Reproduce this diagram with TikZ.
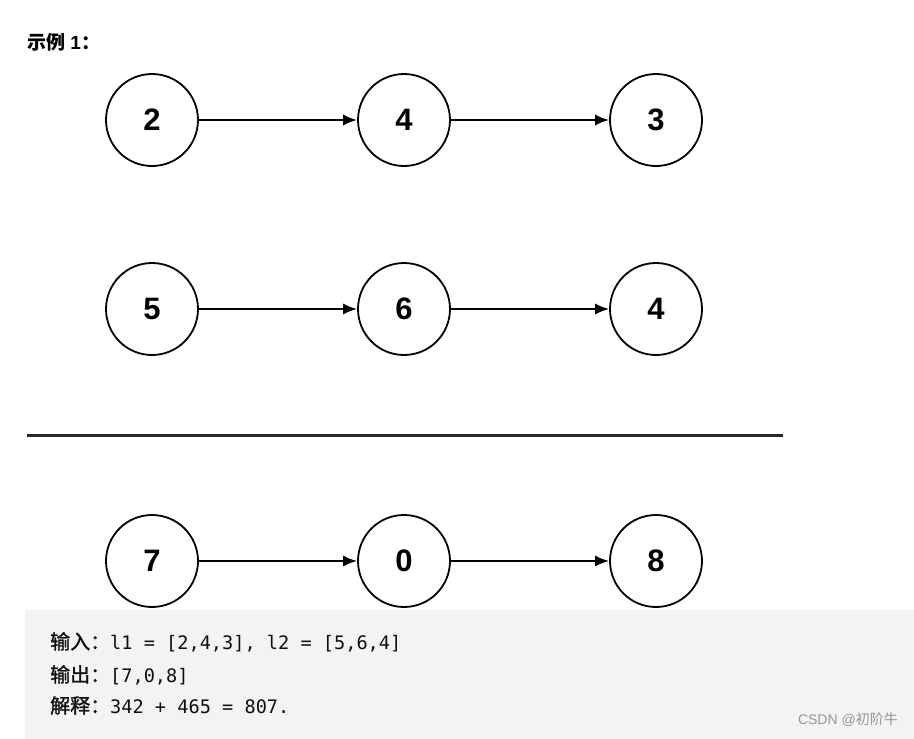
\documentclass[tikz,border=0pt]{standalone}
\usepackage{fontspec}
\setmainfont{Liberation Sans}
\setmonofont{DejaVu Sans Mono}
\newfontfamily\cjk{Noto Sans CJK SC}
\newfontfamily\cjkmid[FakeBold=1.2]{Noto Sans CJK SC}
\usepackage{xcolor}
\usetikzlibrary{arrows.meta}
\definecolor{exInk}{RGB}{0,0,0}
\definecolor{exText}{RGB}{15,15,15}
\definecolor{exBox}{RGB}{242,243,245}
\definecolor{exMark}{RGB}{150,150,150}
\definecolor{exRule}{RGB}{40,40,40}
\tikzset{
  lnNode/.style={circle, draw=exInk, line width=1.8pt, fill=white,
    minimum size=92pt, inner sep=0pt,
    font=\fontsize{31}{31}\selectfont\bfseries},
  lnLink/.style={-{Latex[length=14pt,width=11pt]}, line width=1.8pt,
    draw=exInk},
  lnCode/.style={anchor=base west, inner sep=0pt, text=exText,
    font=\fontsize{18.6}{18.6}\selectfont}
}
\newcommand{\hanlabel}[1]{{\cjkmid\fontsize{20}{20}\selectfont #1}}
\begin{document}
\begin{tikzpicture}[x=1pt,y=-1pt]
\useasboundingbox (0,0) rectangle (914,739);
\node[anchor=west, inner sep=0pt, font=\fontsize{19}{19}\selectfont\bfseries] (title) at (27,42) {{\cjk 示例} 1{\cjk ：}};
% first list
\node[lnNode] (a1) at (152,120) {2};
\node[lnNode] (a2) at (404,120) {4};
\node[lnNode] (a3) at (656,120) {3};
\draw[lnLink] (a1) -- (a2);
\draw[lnLink] (a2) -- (a3);
% second list
\node[lnNode] (b1) at (152,309) {5};
\node[lnNode] (b2) at (404,309) {6};
\node[lnNode] (b3) at (656,309) {4};
\draw[lnLink] (b1) -- (b2);
\draw[lnLink] (b2) -- (b3);
% sum rule
\draw[line width=3pt, draw=exRule] (27,435) -- (783,435);
% result list
\node[lnNode] (c1) at (152,561) {7};
\node[lnNode] (c2) at (404,561) {0};
\node[lnNode] (c3) at (656,561) {8};
\draw[lnLink] (c1) -- (c2);
\draw[lnLink] (c2) -- (c3);
% example box
\fill[exBox] (25,610) rectangle (914,739);
\node[lnCode] (inp) at (50,649) {\hanlabel{输入：}\ttfamily l1 = [2,4,3], l2 = [5,6,4]};
\node[lnCode] (outp) at (50,682) {\hanlabel{输出：}\ttfamily [7,0,8]};
\node[lnCode] (expl) at (50,713) {\hanlabel{解释：}\ttfamily 342 + 465 = 807.};
\node[anchor=east, inner sep=0pt, text=exMark, font=\fontsize{14}{14}\selectfont] (mark) at (898,720) {CSDN @{\cjk 初阶牛}};
\end{tikzpicture}
\end{document}
